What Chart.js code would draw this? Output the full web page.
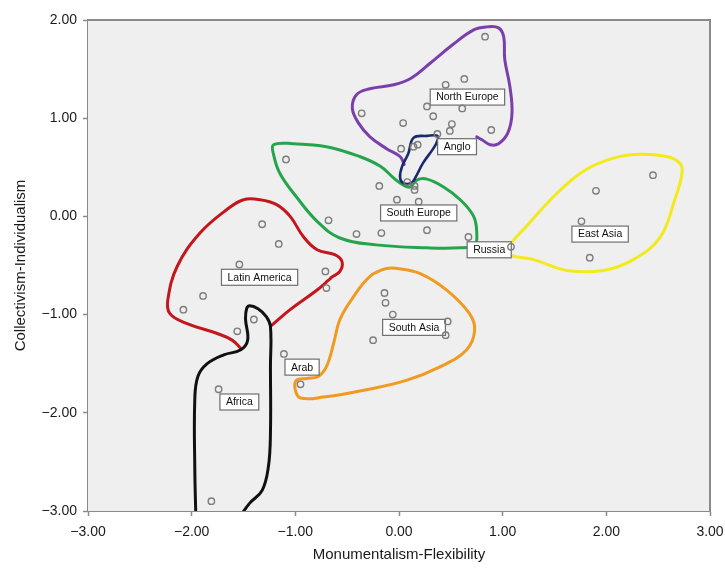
<!DOCTYPE html>
<html>
<head>
<meta charset="utf-8">
<script src="https://cdn.jsdelivr.net/npm/chart.js@4.4.1/dist/chart.umd.min.js"></script>
<style>
  html, body { margin: 0; padding: 0; background: #ffffff; }
  #wrap { width: 725px; height: 568px; }
</style>
</head>
<body>
<div id="wrap"><canvas id="c" width="725" height="568"></canvas></div>
<script>
// Country scores on the two cultural dimensions
const countryX = [0.83, 0.63, 0.45, 0.27, 0.61, 0.33, -0.36, 0.04, 0.51, 0.49, 0.89, 0.37,
  0.18, 0.14, 0.02, 0.08, 0.15, 0.15,
  -0.19, -0.02, 0.19, -1.09, -0.68, -0.41, -0.17, 0.27, 0.67,
  1.08,
  2.45, 1.90, 1.76, 1.84,
  -1.32, -1.16, -1.54, -0.71, -0.70, -1.89, -2.08,
  -1.40, -1.56, -1.74, -1.81,
  -1.11, -0.95,
  -0.14, -0.13, -0.06, 0.47, 0.45, -0.25];
const countryY = [1.83, 1.40, 1.34, 1.12, 1.10, 1.02, 1.05, 0.95, 0.94, 0.87, 0.88, 0.84,
  0.73, 0.71, 0.69, 0.35, 0.31, 0.27,
  0.31, 0.17, 0.15, 0.58, -0.04, -0.18, -0.17, -0.14, -0.21,
  -0.31,
  0.42, 0.26, -0.05, -0.42,
  -0.08, -0.28, -0.49, -0.56, -0.73, -0.81, -0.95,
  -1.05, -1.17, -1.76, -2.90,
  -1.40, -1.71,
  -0.78, -0.88, -1.00, -1.07, -1.21, -1.26];

// Hand-drawn cluster outlines, in axis units
const africaOutline = [[-1.96, -3.05], [-1.97, -2.55], [-1.97, -1.87], [-1.94, -1.63], [-1.85, -1.50],
  [-1.69, -1.41], [-1.53, -1.36], [-1.46, -1.26], [-1.48, -1.05], [-1.47, -0.94], [-1.44, -0.91],
  [-1.36, -0.94], [-1.28, -1.02], [-1.24, -1.12], [-1.24, -1.53], [-1.24, -2.21], [-1.26, -2.55],
  [-1.32, -2.79], [-1.44, -2.92], [-1.53, -3.05]];
const angloOutline = [[0.37, 0.82], [0.27, 0.82], [0.14, 0.80], [0.09, 0.64], [0.03, 0.51], [0.01, 0.40],
  [0.04, 0.34], [0.12, 0.34], [0.16, 0.40], [0.23, 0.54], [0.33, 0.69], [0.37, 0.77]];
const northEuropeOutline = [[0.05, 0.53], [0.01, 0.61], [-0.12, 0.69], [-0.28, 0.81], [-0.39, 0.95],
  [-0.45, 1.10], [-0.41, 1.24], [-0.28, 1.30], [-0.05, 1.34], [0.12, 1.41], [0.30, 1.56], [0.52, 1.75],
  [0.72, 1.90], [0.85, 1.93], [0.96, 1.92], [1.01, 1.83], [1.02, 1.60], [1.07, 1.32], [1.09, 1.05],
  [1.05, 0.85], [0.96, 0.74], [0.88, 0.73], [0.80, 0.78], [0.75, 0.81]];
const latinAmericaOutline = [[-1.24, -1.12], [-1.05, -0.95], [-0.79, -0.75], [-0.68, -0.65], [-0.65, -0.62],
  [-0.57, -0.56], [-0.55, -0.46], [-0.62, -0.39], [-0.79, -0.34], [-0.92, -0.21], [-1.05, 0.00],
  [-1.18, 0.12], [-1.34, 0.17], [-1.50, 0.17], [-1.66, 0.07], [-1.92, -0.17], [-2.14, -0.51],
  [-2.23, -0.85], [-2.21, -0.99], [-2.05, -1.09], [-1.76, -1.19], [-1.61, -1.26], [-1.52, -1.35]];
const southEuropeOutline = [[-1.21, 0.73], [-1.02, 0.74], [-0.70, 0.71], [-0.38, 0.61], [-0.18, 0.51],
  [-0.05, 0.39], [0.04, 0.32], [0.11, 0.30], [0.17, 0.37], [0.27, 0.38], [0.43, 0.30], [0.59, 0.17],
  [0.72, 0.00], [0.75, -0.17], [0.73, -0.29], [0.59, -0.32], [0.27, -0.32], [-0.22, -0.29],
  [-0.57, -0.22], [-0.79, -0.05], [-0.99, 0.20], [-1.15, 0.44], [-1.21, 0.63]];
const southAsiaOutline = [[-0.02, -0.53], [0.20, -0.58], [0.46, -0.75], [0.68, -0.99], [0.73, -1.16],
  [0.65, -1.36], [0.40, -1.53], [0.07, -1.67], [-0.34, -1.77], [-0.73, -1.84], [-0.95, -1.85],
  [-1.00, -1.77], [-0.99, -1.67], [-0.89, -1.65], [-0.78, -1.63], [-0.70, -1.53], [-0.63, -1.29],
  [-0.57, -1.05], [-0.44, -0.82], [-0.28, -0.61], [-0.12, -0.53]];
const eastAsiaOutline = [[1.07, -0.29], [1.23, -0.10], [1.49, 0.20], [1.75, 0.44], [2.00, 0.57],
  [2.26, 0.63], [2.58, 0.61], [2.71, 0.54], [2.73, 0.44], [2.66, 0.17], [2.52, -0.21], [2.26, -0.44],
  [1.97, -0.55], [1.62, -0.55], [1.30, -0.44], [1.04, -0.38]];

// Region labels (box centres, axis units)
const labelText = ['North Europe', 'Anglo', 'South Europe', 'Russia', 'East Asia',
  'Latin America', 'South Asia', 'Arab', 'Africa'];
const labelX = [0.66, 0.56, 0.19, 0.87, 1.94, -1.345, 0.145, -0.935, -1.54];
const labelY = [1.215, 0.71, 0.035, -0.34, -0.18, -0.62, -1.13, -1.535, -1.89];

const xTicks = [-3, -2, -1, 0, 1, 2, 3];
const yTicks = [-3, -2, -1, 0, 1, 2];

const FONT = "'Liberation Sans', Arial, Helvetica, sans-serif";
const toXY = p => ({ x: p[0], y: p[1] });
const fmt = v => (v < 0 ? '\u2212' : '') + Math.abs(v).toFixed(2);

function openCurve(pts, color, width) {
  return {
    type: 'scatter', showLine: true, data: pts.map(toXY),
    borderColor: color, borderWidth: width, tension: 0.4,
    pointRadius: 0, pointHoverRadius: 0, fill: false, order: 1,
    borderCapStyle: 'round', borderJoinStyle: 'round'
  };
}
// Closed outline: wrap the ends so the bezier stays smooth at the seam,
// then hide the two helper segments.
function closedCurve(pts, color, width) {
  const n = pts.length;
  const wrapped = [pts[n - 1], ...pts, pts[0], pts[1]];
  const ds = openCurve(wrapped, color, width);
  const last = wrapped.length - 1;
  ds.segment = {
    borderColor: ctx => (ctx.p0DataIndex === 0 || ctx.p1DataIndex === last) ? 'rgba(0,0,0,0)' : undefined
  };
  return ds;
}

const datasets = [
  openCurve(africaOutline, '#111111', 3),
  closedCurve(angloOutline, '#1b2a6b', 2.6),
  openCurve(northEuropeOutline, '#7a3fab', 3),
  openCurve(latinAmericaOutline, '#c3161d', 3),
  closedCurve(southEuropeOutline, '#25a54b', 3),
  closedCurve(southAsiaOutline, '#f19a22', 3),
  closedCurve(eastAsiaOutline, '#f2ea1c', 3),
  {
    type: 'scatter',
    data: countryX.map((x, i) => ({ x, y: countryY[i] })),
    pointStyle: 'circle', pointRadius: 3.2, pointHoverRadius: 3.2,
    pointBorderColor: '#7c7c7c', pointBackgroundColor: 'rgba(0,0,0,0)', pointBorderWidth: 1.4,
    showLine: false, order: 0
  }
];

const plotFrame = {
  id: 'plotFrame',
  beforeDatasetsDraw(chart) {
    const { ctx, chartArea: a } = chart;
    ctx.save();
    ctx.fillStyle = '#efefef';
    ctx.fillRect(a.left, a.top, a.right - a.left, a.bottom - a.top);
    ctx.strokeStyle = '#8a8a8a';
    ctx.lineWidth = 2;
    ctx.beginPath();
    ctx.moveTo(a.left, a.top);
    ctx.lineTo(a.right, a.top);
    ctx.lineTo(a.right, a.bottom);
    ctx.stroke();
    ctx.restore();
  }
};

const regionLabels = {
  id: 'regionLabels',
  afterDatasetDraw(chart, args) {
    if (args.index !== 0) return;
    const { ctx, scales: { x, y } } = chart;
    ctx.save();
    ctx.font = '10.5px ' + FONT;
    ctx.textAlign = 'center';
    ctx.textBaseline = 'middle';
    labelText.forEach((t, i) => {
      const cx = x.getPixelForValue(labelX[i]);
      const cy = y.getPixelForValue(labelY[i]);
      const w = ctx.measureText(t).width + 12;
      const h = 16;
      ctx.fillStyle = '#ffffff';
      ctx.fillRect(cx - w / 2, cy - h / 2, w, h);
      ctx.strokeStyle = '#6e6e6e';
      ctx.lineWidth = 1.2;
      ctx.strokeRect(cx - w / 2, cy - h / 2, w, h);
      ctx.fillStyle = '#111111';
      ctx.fillText(t, cx, cy + 0.5);
    });
    ctx.restore();
  }
};

new Chart(document.getElementById('c'), {
  type: 'scatter',
  data: { datasets },
  plugins: [plotFrame, regionLabels],
  options: {
    responsive: false,
    devicePixelRatio: 1,
    animation: false,
    layout: { padding: { top: 20, right: 15, bottom: 0, left: 0 } },
    plugins: { legend: { display: false }, tooltip: { enabled: false } },
    scales: {
      x: {
        type: 'linear', min: -3, max: 3,
        afterBuildTicks: s => { s.ticks = xTicks.map(v => ({ value: v })); },
        afterFit: s => { s.height = 57; s.paddingLeft = 0; s.paddingRight = 0; },
        ticks: { callback: fmt, color: '#1a1a1a', font: { family: FONT, size: 14 }, padding: 8, maxRotation: 0 },
        grid: { drawOnChartArea: false, drawTicks: true, tickLength: 5, color: '#8a8a8a', tickWidth: 1.5 },
        border: { display: true, color: '#8a8a8a', width: 2 },
        title: { display: true, text: 'Monumentalism-Flexibility', color: '#1a1a1a',
                 font: { family: FONT, size: 15 }, padding: { top: 0, bottom: 4 } }
      },
      y: {
        type: 'linear', min: -3, max: 2,
        afterBuildTicks: s => { s.ticks = yTicks.map(v => ({ value: v })); },
        afterFit: s => { s.width = 88; s.paddingTop = 0; s.paddingBottom = 0; },
        ticks: { callback: fmt, color: '#1a1a1a', font: { family: FONT, size: 14 }, padding: 6 },
        grid: { drawOnChartArea: false, drawTicks: true, tickLength: 5, color: '#8a8a8a', tickWidth: 1.5 },
        border: { display: true, color: '#8a8a8a', width: 2 },
        title: { display: true, text: 'Collectivism-Individualism', color: '#1a1a1a',
                 font: { family: FONT, size: 15 }, padding: { top: 12, bottom: 0 } }
      }
    }
  }
});
</script>
</body>
</html>
